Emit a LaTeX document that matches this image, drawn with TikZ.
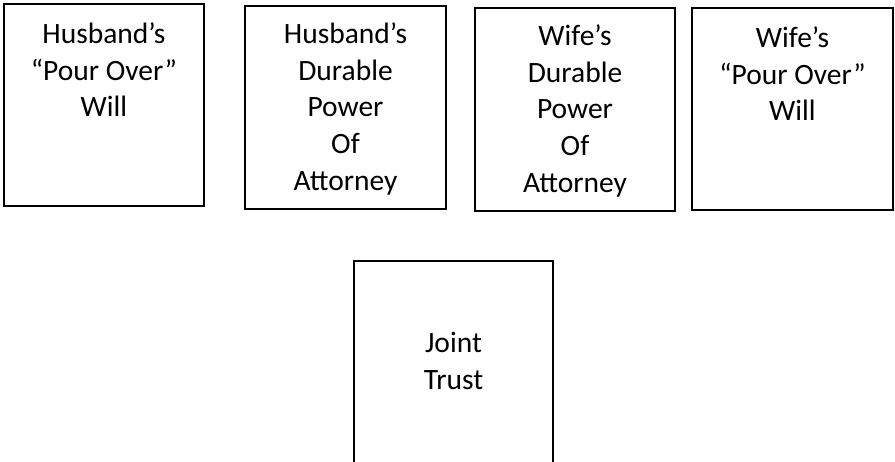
\documentclass[tikz,border=0pt]{standalone}
\usepackage{fontspec}
\setmainfont{Carlito}
\usetikzlibrary{positioning}
\begin{document}
\begin{tikzpicture}[x=1pt,y=-1pt,
  box/.style={draw=black, line width=1.4pt, rectangle, inner sep=0pt},
  lbl/.style={font=\fontsize{29.5}{36.8}\selectfont, align=center, inner sep=0pt}]
\clip (0,0) rectangle (895,461);
\node[box, minimum width=200pt, minimum height=202pt] (hw) at (104,105) {};
\node[box, minimum width=201pt, minimum height=203pt] (hp) at (345.5,107.5) {};
\node[box, minimum width=200pt, minimum height=203pt] (wp) at (575,109.5) {};
\node[box, minimum width=201pt, minimum height=202pt] (ww) at (792.5,109) {};
\node[box, minimum width=199pt, minimum height=209pt] (jt) at (453.5,365.5) {};
\node[lbl, below=19pt of hw.north] (hwt) {Husband’s\\“Pour Over”\\Will};
\node[lbl, below=17pt of hp.north] (hpt) {Husband’s\\Durable\\Power\\Of\\Attorney};
\node[lbl, below=17pt of wp.north] (wpt) {Wife’s\\Durable\\Power\\Of\\Attorney};
\node[lbl, below=19pt of ww.north] (wwt) {Wife’s\\“Pour Over”\\Will};
\node[lbl, below=72pt of jt.north] (jtt) {Joint\\Trust};
\end{tikzpicture}
\end{document}
